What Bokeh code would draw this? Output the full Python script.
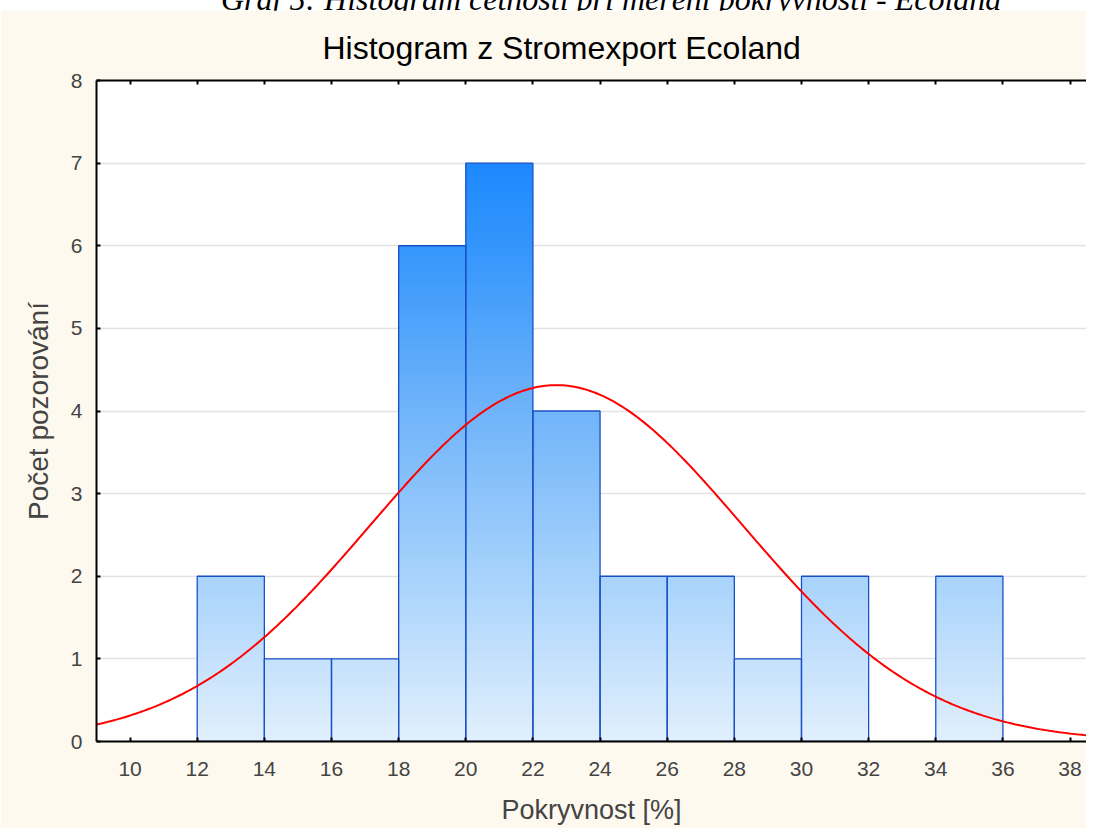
import numpy as np
from bokeh.plotting import figure
from bokeh.models import Div, LinearAxis, FixedTicker, Range1d
from bokeh.layouts import column
from bokeh.embed import file_html
from bokeh.resources import INLINE

# ---- data ----
bin_left = [12, 14, 16, 18, 20, 22, 24, 26, 28, 30, 32, 34]
bin_right = [14, 16, 18, 20, 22, 24, 26, 28, 30, 32, 34, 36]
counts = [2, 1, 1, 6, 7, 4, 2, 2, 1, 2, 0, 2]
x_ticks = [10, 12, 14, 16, 18, 20, 22, 24, 26, 28, 30, 32, 34, 36, 38]
y_ticks = [0, 1, 2, 3, 4, 5, 6, 7, 8]
n_obs = 30
bin_width = 2
fit_mean = 22.7
fit_sd = 5.55

caption = "Graf 5: Histogram četnosti při měření pokryvnosti - Ecoland"
title = "Histogram z Stromexport Ecoland"
x_label = "Pokryvnost [%]"
y_label = "Počet pozorování"

# gradient stops (value on y axis -> rgb)
grad_y = [0, 2, 4, 6, 7, 8]
grad_r = [226, 168, 112, 52, 30, 20]
grad_g = [240, 211, 180, 150, 137, 130]
grad_b = [253, 252, 250, 252, 255, 255]

CREAM = "#FDF9EE"
FONT = "Liberation Sans"

p = figure(width=1086, height=818, output_backend="svg", toolbar_location=None,
           x_range=Range1d(9, 38.49), y_range=Range1d(0, 8),
           min_border_left=96, min_border_right=0, min_border_top=70, min_border_bottom=87,
           background_fill_color="white", border_fill_color=CREAM,
           outline_line_color=None, x_axis_location=None, y_axis_location=None)

p.title.text = title
p.title.align = "left"
p.title.offset = 226
p.title.text_font = FONT
p.title.text_font_size = "32px"
p.title.text_font_style = "normal"
p.title.text_color = "black"
p.title.standoff = 29

p.xgrid.grid_line_color = None
p.ygrid.grid_line_color = "#E2E2E2"
p.ygrid.grid_line_width = 1.5
p.ygrid.ticker = FixedTicker(ticks=y_ticks)

# gradient bars via images
images, xs, dws, dhs = [], [], [], []
res = 100
for l, r, c in zip(bin_left, bin_right, counts):
    if c <= 0:
        continue
    rows = int(round(c * res))
    yy = (np.arange(rows) + 0.5) / res
    R = np.interp(yy, grad_y, grad_r).astype(np.uint32)
    G = np.interp(yy, grad_y, grad_g).astype(np.uint32)
    B = np.interp(yy, grad_y, grad_b).astype(np.uint32)
    rgba = (255 << 24) | (B << 16) | (G << 8) | R
    images.append(rgba.reshape(rows, 1).astype(np.uint32))
    xs.append(l)
    dws.append(r - l)
    dhs.append(c)
p.image_rgba(image=images, x=xs, y=[0] * len(xs), dw=dws, dh=dhs)

nz = [i for i, c in enumerate(counts) if c > 0]
p.quad(left=[bin_left[i] for i in nz], right=[bin_right[i] for i in nz],
       bottom=0, top=[counts[i] for i in nz],
       fill_color=None, line_color="#1850c8", line_width=1.3)

# fitted normal curve
cx = np.linspace(9, 38.49, 400)
cy = n_obs * bin_width / (fit_sd * np.sqrt(2 * np.pi)) * np.exp(-0.5 * ((cx - fit_mean) / fit_sd) ** 2)
p.line(cx, cy, line_color="#FF0000", line_width=2)

tick_kw = dict(major_tick_in=4, major_tick_out=0, minor_tick_line_color=None,
               axis_line_width=2, major_tick_line_width=2,
               axis_line_color="black", major_tick_line_color="black")

xb = LinearAxis(ticker=FixedTicker(ticks=x_ticks), axis_label=x_label, **tick_kw)
xb.major_label_text_font = FONT
xb.major_label_text_font_size = "21px"
xb.major_label_standoff = 20
xb.axis_label_text_font = FONT
xb.axis_label_text_font_size = "27px"
xb.axis_label_text_font_style = "normal"
xb.axis_label_standoff = 16
p.add_layout(xb, "below")

yl = LinearAxis(ticker=FixedTicker(ticks=y_ticks), axis_label=y_label, **tick_kw)
yl.major_label_text_font = FONT
yl.major_label_text_font_size = "21px"
yl.major_label_standoff = 14
yl.axis_label_text_font = FONT
yl.axis_label_text_font_size = "28px"
yl.axis_label_text_font_style = "normal"
yl.axis_label_standoff = 14
p.add_layout(yl, "left")

xt = LinearAxis(ticker=FixedTicker(ticks=x_ticks), major_label_text_color=None,
                major_label_text_font_size="1px", major_label_standoff=0, **tick_kw)
p.add_layout(xt, "above")

cap = Div(text=('<div style="position:absolute; left:216px; top:-22px; '
                'font-family:\'Liberation Serif\'; font-style:italic; font-size:32px; '
                'line-height:32px; white-space:nowrap; color:black;">' + caption + '</div>'),
          width=1086, height=0, styles={"overflow": "visible", "position": "relative"})

layout = column(cap, p, spacing=0)
open("out.html", "w").write(file_html(layout, INLINE))
